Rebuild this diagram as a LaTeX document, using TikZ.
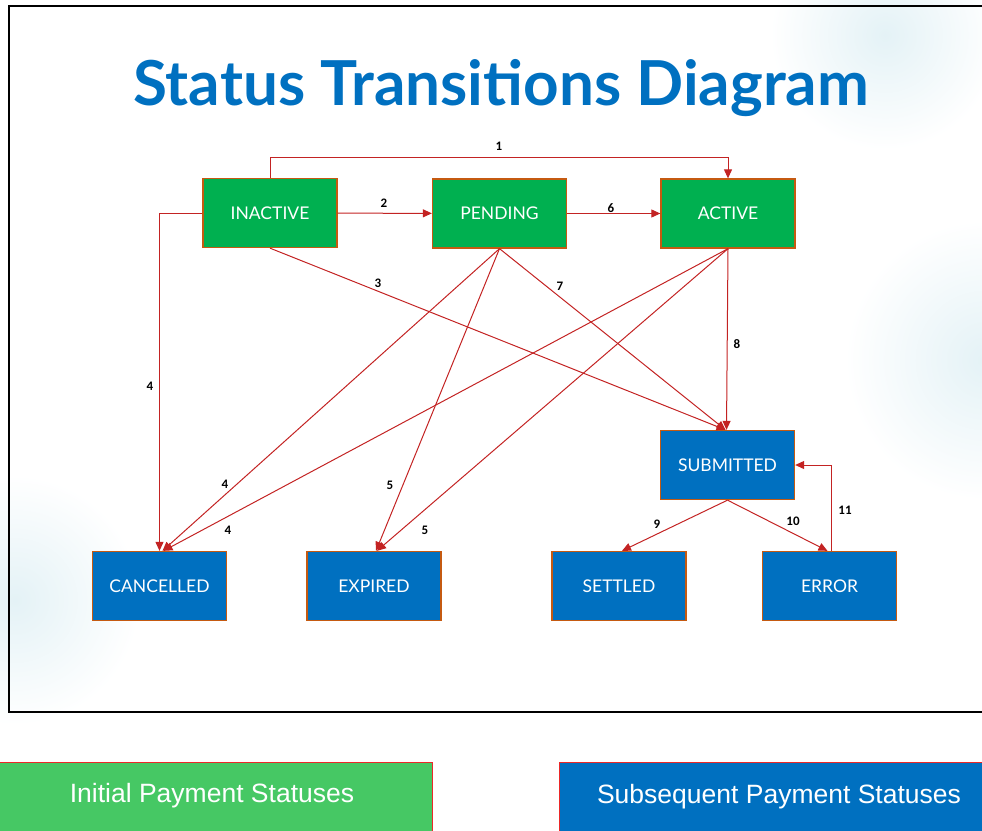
\documentclass[tikz,border=0pt]{standalone}
\usepackage{fontspec}
\setmainfont{Liberation Sans}
\newfontfamily\titlefont{Lato}
\newfontfamily\boxfont{Lato}
\newfontfamily\numfont{Carlito}
\usetikzlibrary{arrows.meta}

\newlength{\du}
\setlength{\du}{1pt}

\definecolor{statgreen}{RGB}{0,176,80}
\definecolor{statblue}{RGB}{0,112,192}
\definecolor{statedge}{RGB}{197,90,17}
\definecolor{transred}{RGB}{195,35,35}
\definecolor{legendgreen}{RGB}{70,200,100}
\definecolor{legendedge}{RGB}{235,40,40}
\definecolor{hazeblue}{RGB}{228,242,246}

\tikzset{
  statusbox/.style={draw=statedge, line width=1.3\du, minimum width=134\du,
    minimum height=69\du, inner sep=0pt, text=white,
    font=\boxfont\fontsize{17.5}{17.5}\selectfont},
  initbox/.style={statusbox, fill=statgreen},
  nextbox/.style={statusbox, fill=statblue},
  trans/.style={draw=transred, line width=1\du,
    -{Triangle[length=9pt,width=8pt]}},
  translabel/.style={font=\numfont\bfseries\fontsize{13}{13}\selectfont,
    text=black, inner sep=0pt},
  legendbox/.style={draw=legendedge, line width=1\du, inner sep=0pt},
  legendtext/.style={text=white, inner sep=0pt,
    font=\fontsize{26.5}{26.5}\selectfont}
}

\begin{document}
\begin{tikzpicture}[x=1\du,y=-1\du]
\useasboundingbox (0,0) rectangle (982,830);
\clip (0,0) rectangle (982,830);
% faint background haze
\shade[inner color=hazeblue, outer color=white] (885,35) circle (115);
\shade[inner color=hazeblue, outer color=white] (985,360) circle (140);
\shade[inner color=hazeblue, outer color=white] (15,600) circle (125);
% slide frame
\draw[line width=2\du] (9,6) rectangle (992,712);
\node[text=statblue, inner sep=0pt] (title) at (501,88)
  {\titlefont\bfseries\fontsize{62}{62}\selectfont Status Transitions Diagram};

% status boxes
\node[initbox] (inactive) at (270,213) {INACTIVE};
\node[initbox] (pending) at (499.5,213.5) {PENDING};
\node[initbox] (active) at (728,213.5) {ACTIVE};
\node[nextbox] (submitted) at (727.5,465) {SUBMITTED};
\node[nextbox] (cancelled) at (159.5,586) {CANCELLED};
\node[nextbox] (expired) at (374,586) {EXPIRED};
\node[nextbox] (settled) at (619,586) {SETTLED};
\node[nextbox] (error) at (829.5,586) {ERROR};

% transitions
\draw[trans] (inactive.north) -- ++(0,-20) -| (active.north);
\draw[trans] (inactive) -- (pending);
\draw[trans] (pending) -- (active);
\draw[trans] (inactive.south) -- ([xshift=-2pt]submitted.north);
\draw[trans] (inactive.west) -| (cancelled.north);
\draw[trans] (pending.south) -- ([xshift=3pt]cancelled.north);
\draw[trans] (active.south) -- ([xshift=4pt]cancelled.north);
\draw[trans] (pending.south) -- ([xshift=2pt]expired.north);
\draw[trans] (active.south) -- ([xshift=3pt]expired.north);
\draw[trans] (pending.south) -- ([xshift=-2pt]submitted.north);
\draw[trans] (active.south) -- ([xshift=-1pt]submitted.north);
\draw[trans] (submitted.south) -- ([xshift=3pt]settled.north);
\draw[trans] (submitted.south) -- ([xshift=-2pt]error.north);
\draw[trans] ([xshift=2pt]error.north) |- (submitted.east);

% transition numbers
\node[translabel] (n1) at (499,146) {1};
\node[translabel] (n2) at (384,203) {2};
\node[translabel] (n6) at (611,208) {6};
\node[translabel] (n3) at (378,283) {3};
\node[translabel] (n7) at (560,286) {7};
\node[translabel] (n8) at (737,344) {8};
\node[translabel] (n4a) at (150,386) {4};
\node[translabel] (n4b) at (225,484) {4};
\node[translabel] (n4c) at (228,530) {4};
\node[translabel] (n5a) at (390,485) {5};
\node[translabel] (n5b) at (425,530) {5};
\node[translabel] (n9) at (657,524) {9};
\node[translabel] (n10) at (793,521) {10};
\node[translabel] (n11) at (845,510) {11};

% legend
\draw[legendbox, fill=legendgreen] (-2,762) rectangle (432,840);
\draw[legendbox, fill=statblue] (559,762) rectangle (992,840);
\node[legendtext] (legendinit) at (212,796) {Initial Payment Statuses};
\node[legendtext] (legendnext) at (779,797) {Subsequent Payment Statuses};
\end{tikzpicture}
\end{document}
